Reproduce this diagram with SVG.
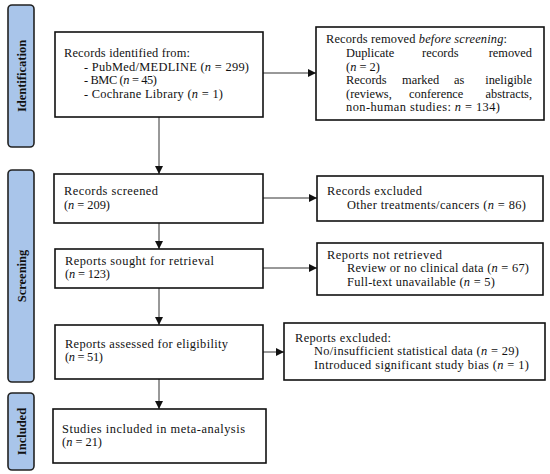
<svg xmlns="http://www.w3.org/2000/svg" width="550" height="474" viewBox="0 0 550 474">
<style>
text{font-family:"Liberation Serif","Times New Roman",serif;font-size:12.4px;fill:#111}
.i{font-style:italic}
.box{fill:#fff;stroke:#111;stroke-width:1.6}
.lab{fill:#a9c5ea;stroke:#222;stroke-width:1.6}
.lt{font-weight:bold;font-size:12.5px;text-anchor:middle}
.c{stroke:#333;stroke-width:1;fill:none;marker-end:url(#ah)}
</style>
<defs>
<marker id="ah" viewBox="0 0 10 10" refX="10" refY="5" markerWidth="8" markerHeight="8" markerUnits="userSpaceOnUse" orient="auto"><path d="M0,0L10,5L0,10z" fill="#111"/></marker>
</defs>
<rect width="550" height="474" fill="#fff"/>
<g id="label-identification"><rect class="lab" x="8" y="5" width="26" height="142" rx="4"/><text class="lt" transform="translate(25.5,76) rotate(-90)">Identification</text></g>
<g id="label-screening"><rect class="lab" x="8" y="170" width="26" height="212" rx="4"/><text class="lt" transform="translate(25.5,276) rotate(-90)">Screening</text></g>
<g id="label-included"><rect class="lab" x="8" y="393" width="26" height="77" rx="4"/><text class="lt" transform="translate(25.5,431.5) rotate(-90)">Included</text></g>

<g id="connectors">
<path class="c" d="M263,73H316"/>
<path class="c" d="M159,117V174"/>
<path class="c" d="M263,198H317"/>
<path class="c" d="M159,223V249"/>
<path class="c" d="M263,268H317"/>
<path class="c" d="M159,288V325"/>
<path class="c" d="M263,352H284"/>
<path class="c" d="M159,379V409"/>
</g>

<g id="box-identified"><rect class="box" x="55" y="32" width="208" height="85"/>
<text x="64" y="57" textLength="126" lengthAdjust="spacing">Records identified from:</text>
<text x="84" y="70.5" textLength="165" lengthAdjust="spacing">- PubMed/MEDLINE (<tspan class="i">n</tspan> = 299)</text>
<text x="84" y="84" textLength="73" lengthAdjust="spacing">- BMC (<tspan class="i">n</tspan> = 45)</text>
<text x="84" y="97.5" textLength="139" lengthAdjust="spacing">- Cochrane Library (<tspan class="i">n</tspan> = 1)</text>
</g>
<g id="box-removed"><rect class="box" x="316" y="27" width="228" height="93"/>
<text x="326" y="43" textLength="181" lengthAdjust="spacing">Records removed <tspan class="i">before screening</tspan>:</text>
<text x="346" y="57">Duplicate</text><text x="422" y="57">records</text><text x="532" y="57" text-anchor="end">removed</text>
<text x="346" y="70.5">(<tspan class="i">n</tspan> = 2)</text>
<text x="346" y="84">Records</text><text x="402" y="84">marked</text><text x="454" y="84">as</text><text x="532" y="84" text-anchor="end">ineligible</text>
<text x="346" y="97.5">(reviews,</text><text x="409" y="97.5">conference</text><text x="532" y="97.5" text-anchor="end">abstracts,</text>
<text x="346" y="111" textLength="154" lengthAdjust="spacing">non-human studies: <tspan class="i">n</tspan> = 134)</text>
</g>
<g id="box-screened"><rect class="box" x="54" y="174" width="209" height="49"/>
<text x="64" y="195" textLength="94" lengthAdjust="spacing">Records screened</text>
<text x="64" y="208.5" textLength="46" lengthAdjust="spacing">(<tspan class="i">n</tspan> = 209)</text>
</g>
<g id="box-excluded"><rect class="box" x="317" y="176" width="226" height="45"/>
<text x="327" y="195" textLength="95" lengthAdjust="spacing">Records excluded</text>
<text x="347" y="208.5" textLength="179" lengthAdjust="spacing">Other treatments/cancers (<tspan class="i">n</tspan> = 86)</text>
</g>
<g id="box-sought"><rect class="box" x="55" y="249" width="208" height="39"/>
<text x="65" y="264.5" textLength="149" lengthAdjust="spacing">Reports sought for retrieval</text>
<text x="65" y="278" textLength="45" lengthAdjust="spacing">(<tspan class="i">n</tspan> = 123)</text>
</g>
<g id="box-not-retrieved"><rect class="box" x="317" y="243" width="226" height="52"/>
<text x="327" y="258.5" textLength="115" lengthAdjust="spacing">Reports not retrieved</text>
<text x="347" y="272" textLength="182" lengthAdjust="spacing">Review or no clinical data (<tspan class="i">n</tspan> = 67)</text>
<text x="347" y="285.5" textLength="148" lengthAdjust="spacing">Full-text unavailable (<tspan class="i">n</tspan> = 5)</text>
</g>
<g id="box-assessed"><rect class="box" x="55" y="325" width="208" height="54"/>
<text x="65" y="347.5" textLength="163" lengthAdjust="spacing">Reports assessed for eligibility</text>
<text x="65" y="361" textLength="38" lengthAdjust="spacing">(<tspan class="i">n</tspan> = 51)</text>
</g>
<g id="box-reports-excluded"><rect class="box" x="284" y="323" width="261" height="57"/>
<text x="295" y="341.5" textLength="96" lengthAdjust="spacing">Reports excluded:</text>
<text x="314" y="355" textLength="205" lengthAdjust="spacing">No/insufficient statistical data (<tspan class="i">n</tspan> = 29)</text>
<text x="314" y="368.5" textLength="215" lengthAdjust="spacing">Introduced significant study bias (<tspan class="i">n</tspan> = 1)</text>
</g>
<g id="box-included"><rect class="box" x="53" y="409" width="213" height="54"/>
<text x="62" y="432.5" textLength="183" lengthAdjust="spacing">Studies included in meta-analysis</text>
<text x="62" y="446" textLength="40" lengthAdjust="spacing">(<tspan class="i">n</tspan> = 21)</text>
</g>
</svg>
